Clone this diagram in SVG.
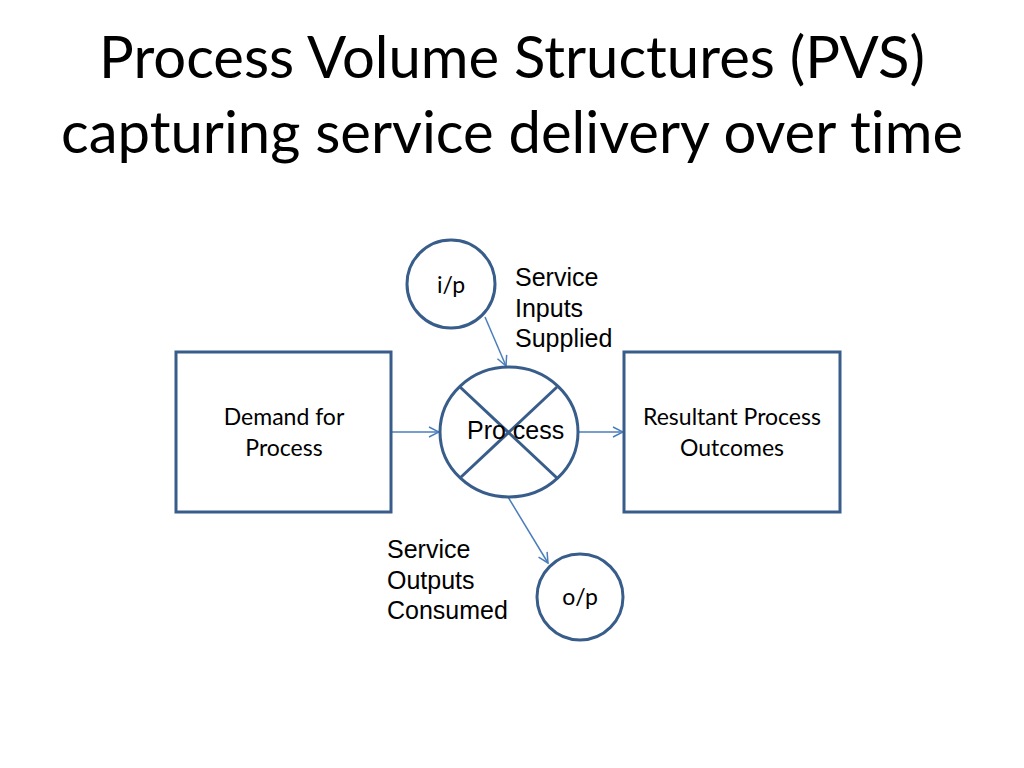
<svg xmlns="http://www.w3.org/2000/svg" width="1024" height="768" viewBox="0 0 1024 768">
<style>
.title{font-family:Lato,"Open Sans","Liberation Sans",sans-serif;font-size:58px;fill:#000;text-anchor:middle;font-variant-ligatures:none}
.shape{fill:#fff;stroke:#385D8A;stroke-width:3}
.lbl{font-family:Lato,"Open Sans","Liberation Sans",sans-serif;font-size:23px;fill:#000;text-anchor:middle}
.arial{font-family:"Liberation Sans",Arial,sans-serif;font-size:25px;fill:#000}
.conn{fill:none;stroke:#4A7EBB;stroke-width:1.5}
</style>
<defs>
<marker id="arr" viewBox="0 0 12 12" refX="11" refY="6" markerWidth="12" markerHeight="12" markerUnits="userSpaceOnUse" orient="auto">
<path d="M1,1 L11,6 L1,11" fill="none" stroke="#4A7EBB" stroke-width="1.5"/>
</marker>
</defs>
<rect width="1024" height="768" fill="#fff"/>
<g id="title">
<text class="title" x="512" y="78">Process Volume Structures (PVS)</text>
<text class="title" x="512" y="153">capturing service delivery over time</text>
</g>
<g id="connectors">
<line class="conn" x1="391" y1="432" x2="439" y2="432" marker-end="url(#arr)"/>
<line class="conn" x1="578" y1="432" x2="623" y2="432" marker-end="url(#arr)"/>
<line class="conn" x1="485" y1="317" x2="506" y2="366" marker-end="url(#arr)"/>
<line class="conn" x1="508" y1="497" x2="548" y2="563" marker-end="url(#arr)"/>
</g>
<g id="demand">
<rect class="shape" x="176" y="352" width="215" height="160"/>
<text class="lbl" x="284" y="425">Demand for</text>
<text class="lbl" x="284" y="456">Process</text>
</g>
<g id="outcomes">
<rect class="shape" x="624" y="352" width="216" height="160"/>
<text class="lbl" x="732" y="425">Resultant Process</text>
<text class="lbl" x="732" y="456">Outcomes</text>
</g>
<g id="process">
<ellipse class="shape" cx="509" cy="432" rx="69" ry="65"/>
<line x1="460" y1="387" x2="557" y2="478" stroke="#385D8A" stroke-width="3"/>
<line x1="557" y1="387" x2="460" y2="478" stroke="#385D8A" stroke-width="3"/>
<text class="arial" x="467" y="439">Pro cess</text>
</g>
<g id="ip">
<circle class="shape" cx="451" cy="284" r="44"/>
<text class="lbl" x="451" y="293">i/p</text>
</g>
<g id="op">
<circle class="shape" cx="580" cy="597" r="43"/>
<text class="lbl" x="580" y="605">o/p</text>
</g>
<g id="inputs-label">
<text class="arial" x="515" y="286">Service</text>
<text class="arial" x="515" y="317">Inputs</text>
<text class="arial" x="515" y="347">Supplied</text>
</g>
<g id="outputs-label">
<text class="arial" x="387" y="558">Service</text>
<text class="arial" x="387" y="589">Outputs</text>
<text class="arial" x="387" y="619">Consumed</text>
</g>
</svg>
